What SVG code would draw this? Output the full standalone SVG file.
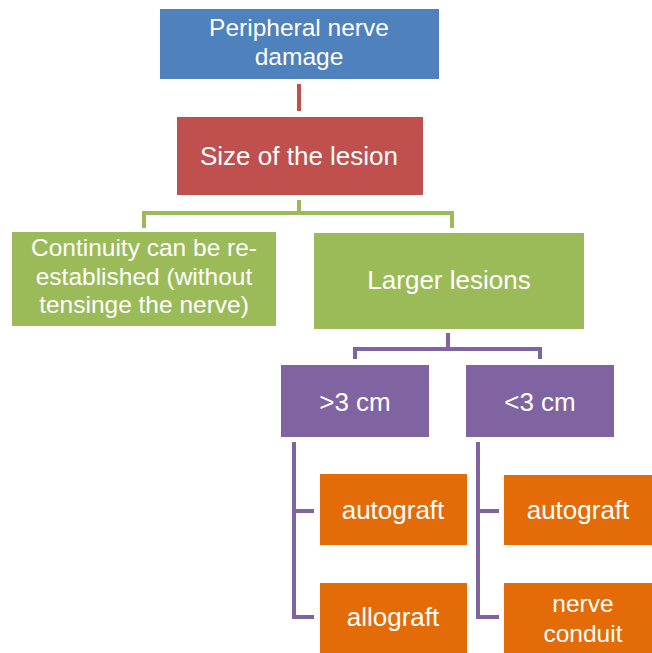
<svg xmlns="http://www.w3.org/2000/svg" width="652" height="653" viewBox="0 0 652 653">
<style>
text{font-family:"Liberation Sans",Arial,sans-serif;fill:#fff;text-anchor:middle;font-size:26px}
.sm{font-size:24.5px}
.blue{fill:#4F81BD}.red{fill:#C0504D}.green{fill:#9BBB59}.purple{fill:#8064A2}.orange{fill:#E36C09}
.c{fill:none;stroke-width:4}
</style>
<rect width="652" height="653" fill="#fff"/>
<g id="connectors">
<path class="c" stroke="#C0504D" d="M299 84V111"/>
<path class="c" stroke="#9BBB59" d="M299 200V213M144 228V213H452V228"/>
<path class="c" stroke="#8064A2" d="M448 333V349M355 359V349H540V359"/>
<path class="c" stroke="#8064A2" d="M294 442V617H314M294 511H314"/>
<path class="c" stroke="#8064A2" d="M478 442V617H499M478 511H499"/>
</g>
<g id="n1"><rect class="blue" x="160" y="9" width="279" height="70"/><text class="sm" x="299" y="36">Peripheral nerve</text><text class="sm" x="299" y="65">damage</text></g>
<g id="n2"><rect class="red" x="177" y="117" width="246" height="78"/><text x="299" y="165">Size of the lesion</text></g>
<g id="n3"><rect class="green" x="12" y="232" width="264" height="94"/><text class="sm" x="144" y="256">Continuity can be re-</text><text class="sm" x="144" y="285">established (without</text><text class="sm" x="144" y="313">tensinge the nerve)</text></g>
<g id="n4"><rect class="green" x="314" y="233" width="270" height="96"/><text x="449" y="289">Larger lesions</text></g>
<g id="n5"><rect class="purple" x="281" y="365" width="148" height="72"/><text x="355" y="411">&gt;3 cm</text></g>
<g id="n6"><rect class="purple" x="466" y="365" width="148" height="72"/><text x="540" y="411">&lt;3 cm</text></g>
<g id="n7"><rect class="orange" x="320" y="474" width="147" height="71"/><text x="393" y="519">autograft</text></g>
<g id="n8"><rect class="orange" x="320" y="583" width="147" height="70"/><text x="393" y="626">allograft</text></g>
<g id="n9"><rect class="orange" x="504" y="475" width="148" height="70"/><text x="578" y="519">autograft</text></g>
<g id="n10"><rect class="orange" x="504" y="583" width="148" height="70"/><text class="sm" x="583" y="612">nerve</text><text class="sm" x="583" y="642">conduit</text></g>
</svg>
